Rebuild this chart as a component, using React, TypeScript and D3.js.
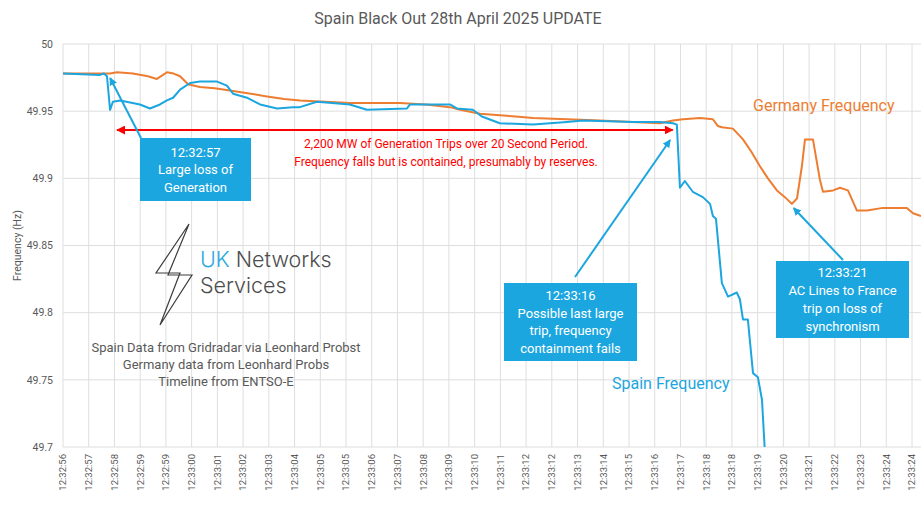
import React from 'react'
import * as d3 from 'd3'

// x positions are in "label slots" (one slot per category label on the axis)
const timeLabels = [
  '12:32:56', '12:32:57', '12:32:58', '12:32:59', '12:32:59', '12:33:00', '12:33:01',
  '12:33:02', '12:33:03', '12:33:04', '12:33:05', '12:33:05', '12:33:06', '12:33:07',
  '12:33:08', '12:33:09', '12:33:10', '12:33:11', '12:33:12', '12:33:12', '12:33:13',
  '12:33:14', '12:33:15', '12:33:16', '12:33:17', '12:33:18', '12:33:18', '12:33:19',
  '12:33:20', '12:33:21', '12:33:22', '12:33:23', '12:33:24', '12:33:24'
]
const freqTicks = [49.7, 49.75, 49.8, 49.85, 49.9, 49.95, 50]

const germanyFreq: [number, number][] = [
  [0, 49.978], [1.83, 49.978], [2.1, 49.979], [2.72, 49.978], [3.3, 49.976],
  [3.65, 49.974], [3.89, 49.977], [4.04, 49.979], [4.3, 49.978], [4.55, 49.976],
  [4.86, 49.97], [5.32, 49.968], [5.9, 49.967], [6.61, 49.965], [7.3, 49.963],
  [7.93, 49.961], [8.6, 49.959], [9.21, 49.958], [10.2, 49.957], [11.15, 49.956],
  [12.1, 49.956], [13.1, 49.956], [14.1, 49.955], [15.04, 49.953], [15.43, 49.951],
  [16.21, 49.948], [16.98, 49.947], [17.6, 49.946], [18.27, 49.945], [19.59, 49.944],
  [20.87, 49.943], [22.15, 49.942], [23.2, 49.941], [23.71, 49.943], [24.1, 49.944],
  [24.76, 49.945], [25.26, 49.944], [25.45, 49.939], [25.61, 49.938], [26.04, 49.937],
  [26.43, 49.929], [26.75, 49.92], [27.09, 49.909], [27.4, 49.9], [27.75, 49.891],
  [28.06, 49.886], [28.33, 49.881], [28.53, 49.885], [28.72, 49.909], [28.84, 49.929],
  [29.15, 49.929], [29.42, 49.899], [29.54, 49.89], [29.93, 49.891], [30.2, 49.893],
  [30.51, 49.891], [30.86, 49.876], [31.25, 49.876], [31.87, 49.878], [32.8, 49.878],
  [33.04, 49.874], [33.35, 49.872]
]

const spainFreq: [number, number][] = [
  [0, 49.978], [1.44, 49.977], [1.59, 49.978], [1.71, 49.976], [1.83, 49.951],
  [1.94, 49.957], [2.22, 49.958], [2.99, 49.955], [3.38, 49.952], [3.77, 49.955],
  [4.04, 49.958], [4.28, 49.96], [4.55, 49.966], [4.94, 49.971], [5.32, 49.972],
  [5.99, 49.972], [6.37, 49.969], [6.61, 49.963], [7.15, 49.96], [7.66, 49.955],
  [8.32, 49.952], [8.94, 49.953], [9.21, 49.953], [9.87, 49.957], [11.15, 49.955],
  [11.81, 49.951], [13.37, 49.952], [13.49, 49.955], [15.04, 49.955], [15.31, 49.952],
  [15.93, 49.951], [16.28, 49.946], [16.98, 49.941], [18.27, 49.94], [19.59, 49.942],
  [20.21, 49.943], [22.15, 49.942], [23.2, 49.942], [23.71, 49.941], [23.86, 49.94],
  [23.98, 49.893], [24.17, 49.898], [24.48, 49.89], [24.87, 49.886], [25.15, 49.881],
  [25.26, 49.872], [25.38, 49.87], [25.61, 49.822], [25.85, 49.812], [26.19, 49.815],
  [26.31, 49.81], [26.43, 49.795], [26.62, 49.795], [26.82, 49.755], [27.01, 49.752],
  [27.17, 49.735], [27.3, 49.69]
]

const sourceNotes = ['Spain Data from Gridradar via Leonhard Probst', 'Germany data from Leonhard Probs', 'Timeline from ENTSO-E']

const W = 921
const H = 506
const margin = { top: 44, right: 0, bottom: 59, left: 63 }
const FONT = 'Roboto, "Noto Sans", sans-serif'
const BLUE = '#1CA6DF'
const ORANGE = '#ED7D31'
const GREY = '#595959'

function Callout({ x, y, w, h, lines, lineH }: { x: number, y: number, w: number, h: number, lines: string[], lineH: number }) {
  const top = y + h / 2 - ((lines.length - 1) * lineH) / 2
  return (
    <g>
      <rect x={x} y={y} width={w} height={h} fill={BLUE} />
      {lines.map((l, i) => (
        <text key={i} x={x + w / 2} y={top + i * lineH} dy="0.35em" textAnchor="middle"
          fill="#fff" fontSize={13} fontFamily={FONT}>{l}</text>
      ))}
    </g>
  )
}

export default function App() {
  const x = d3.scaleLinear().domain([0, timeLabels.length - 1]).range([margin.left, 912])
  const y = d3.scaleLinear().domain([49.7, 50]).range([H - margin.bottom, margin.top])
  const line = d3.line<[number, number]>().x(d => x(d[0])).y(d => y(d[1]))
  const plotBottom = y(49.7)

  return (
    <svg width={W} height={H} style={{ position: 'absolute', left: 0, top: 0, background: '#fff' }}>
      <defs>
        <clipPath id="plot"><rect x={margin.left} y={margin.top - 5} width={W - margin.left} height={plotBottom - margin.top + 5} /></clipPath>
        <marker id="blueHead" viewBox="0 0 10 10" refX="9" refY="5" markerWidth="4" markerHeight="4" orient="auto">
          <path d="M0,0 L10,5 L0,10 z" fill={BLUE} />
        </marker>
        <marker id="redHead" viewBox="0 0 10 10" refX="9" refY="5" markerWidth="4.5" markerHeight="4.5" orient="auto-start-reverse">
          <path d="M0,0 L10,5 L0,10 z" fill="#FF0000" />
        </marker>
      </defs>

      <text x={458} y={18} dy="0.35em" textAnchor="middle" fontSize={16} fill={GREY} fontFamily={FONT}>
        Spain Black Out 28th April 2025 UPDATE
      </text>

      {/* grid */}
      {freqTicks.map(t => (
        <line key={'h' + t} x1={margin.left} x2={W} y1={y(t)} y2={y(t)} stroke="#DEDEDE" strokeWidth={1} />
      ))}
      {timeLabels.map((l, i) => (
        <line key={'v' + i} x1={x(i)} x2={x(i)} y1={margin.top} y2={plotBottom} stroke="#DEDEDE" strokeWidth={1} />
      ))}

      {/* axes labels */}
      {freqTicks.map(t => (
        <text key={'yl' + t} x={53} y={y(t)} dy="0.35em" textAnchor="end" fontSize={10.5} fill={GREY} fontFamily={FONT}>
          {d3.format('')(+t.toFixed(2))}
        </text>
      ))}
      {timeLabels.map((l, i) => (
        <text key={'xl' + i} transform={`translate(${x(i)},${plotBottom + 7}) rotate(-90)`} dy="0.35em"
          textAnchor="end" fontSize={9.5} fill={GREY} fontFamily={FONT}>{l}</text>
      ))}
      <text transform={`translate(17,${(margin.top + plotBottom) / 2}) rotate(-90)`} dy="0.35em" textAnchor="middle"
        fontSize={10.5} fill={GREY} fontFamily={FONT}>Frequency (Hz)</text>

      {/* logo + sources */}
      <path d="M189,224 L156,273 L180,273 L160,325 L192,275 L168,275 Z" fill="none" stroke="#3d3d3d" strokeWidth={1.2} strokeLinejoin="miter" />
      <text x={200} y={267} fontSize={21.5} fontWeight={300} fontFamily='Inter, Roboto, sans-serif' fill="#4d4d4d">
        <tspan fill="#29A9E0">UK</tspan> Networks
      </text>
      <text x={200} y={293} fontSize={21.5} fontWeight={300} fontFamily='Inter, Roboto, sans-serif' fill="#4d4d4d">Services</text>
      {sourceNotes.map((s, i) => (
        <text key={s} x={226} y={347 + i * 17} dy="0.35em" textAnchor="middle" fontSize={13} fill={GREY} fontFamily={FONT}>{s}</text>
      ))}

      {/* series */}
      <g clipPath="url(#plot)">
        <path d={line(germanyFreq) || ''} fill="none" stroke={ORANGE} strokeWidth={2} strokeLinejoin="round" />
        <path d={line(spainFreq) || ''} fill="none" stroke={BLUE} strokeWidth={2} strokeLinejoin="round" />
      </g>

      {/* red period arrow */}
      <line x1={x(2.1)} x2={x(23.7)} y1={130} y2={130} stroke="#FF0000" strokeWidth={2}
        markerStart="url(#redHead)" markerEnd="url(#redHead)" />
      <text x={446} y={144} dy="0.35em" textAnchor="middle" fontSize={12} fill="#FF0000" fontFamily={FONT}>
        2,200 MW of Generation Trips over 20 Second Period.
      </text>
      <text x={446} y={162} dy="0.35em" textAnchor="middle" fontSize={12} fill="#FF0000" fontFamily={FONT}>
        Frequency falls but is contained, presumably by reserves.
      </text>

      {/* callouts */}
      <line x1={141} y1={138} x2={x(1.83)} y2={78} stroke={BLUE} strokeWidth={2} markerEnd="url(#blueHead)" />
      <Callout x={140} y={138} w={111} h={63} lines={['12:32:57', 'Large loss of', 'Generation']} lineH={17.5} />

      <line x1={575} y1={277} x2={x(23.6)} y2={140} stroke={BLUE} strokeWidth={2} markerEnd="url(#blueHead)" />
      <Callout x={504} y={283} w={133} h={78} lines={['12:33:16', 'Possible last large', 'trip, frequency', 'containment fails']} lineH={17.7} />

      <line x1={843} y1={260} x2={x(28.4)} y2={208} stroke={BLUE} strokeWidth={2} markerEnd="url(#blueHead)" />
      <Callout x={776} y={261} w={133} h={77} lines={['12:33:21', 'AC Lines to France', 'trip on loss of', 'synchronism']} lineH={18} />

      <text x={753} y={105} dy="0.35em" fontSize={16} fill={ORANGE} fontFamily={FONT}>Germany Frequency</text>
      <text x={612} y={383} dy="0.35em" fontSize={16} fill={BLUE} fontFamily={FONT}>Spain Frequency</text>
    </svg>
  )
}
